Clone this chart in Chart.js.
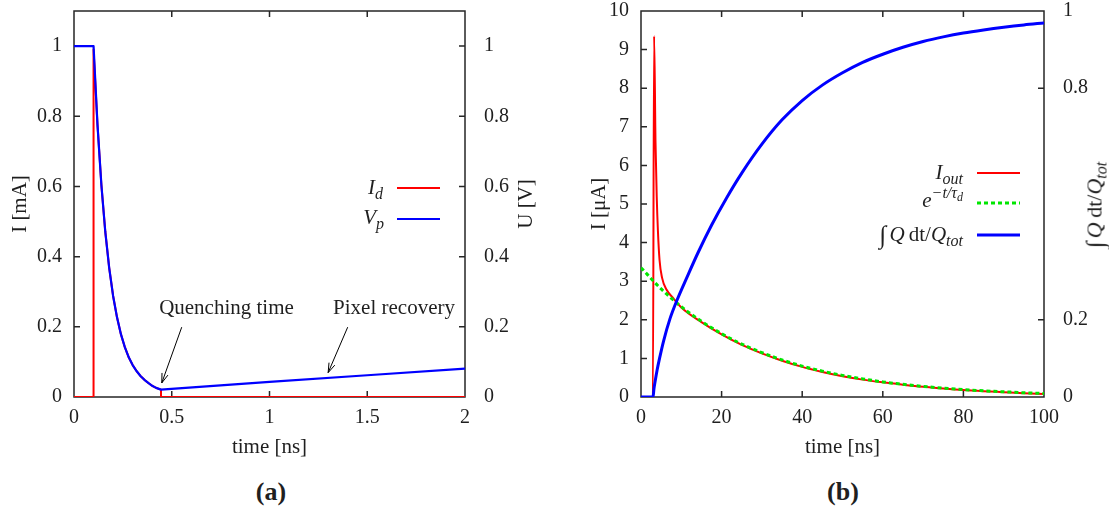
<!DOCTYPE html>
<html>
<head>
<meta charset="utf-8">
<script src="https://cdn.jsdelivr.net/npm/chart.js@4.4.1/dist/chart.umd.min.js"></script>
<style>
html,body{margin:0;padding:0;background:#fff;}
#wrap{position:relative;width:1109px;height:514px;overflow:hidden;font-family:'Liberation Serif','DejaVu Serif',serif;color:#1f1f1f;}
canvas{position:absolute;top:0;}
.t{position:absolute;font-size:21px;line-height:21px;height:21px;white-space:nowrap;}
.sb{font-size:16px;position:relative;top:5px;}
.sp{font-size:16px;position:relative;top:-9px;}
.sps{font-size:12px;position:relative;top:3px;}
.int{font-size:25px;position:relative;top:2px;margin-right:3px;}
.rot{transform:translate(-50%,-50%) rotate(-90deg);transform-origin:center center;}
.cap{position:absolute;font-size:26px;font-weight:bold;line-height:26px;transform:translate(-50%,-50%);}
</style>
</head>
<body>
<div id="wrap">
  <canvas id="ca" width="555" height="470" style="left:0px"></canvas>
  <canvas id="cb" width="554" height="470" style="left:555px"></canvas>

  <!-- legend (a) -->
  <div class="t" style="right:726px;top:177px"><i>I</i><span class="sb"><i>d</i></span></div>
  <div class="t" style="right:725px;top:207px"><i>V</i><span class="sb"><i>p</i></span></div>
  <!-- right axis title (a) -->
  <div class="t rot" style="left:525px;top:204px">U [V]</div>

  <!-- legend (b) -->
  <div class="t" style="right:146px;top:162px"><i>I</i><span class="sb"><i>out</i></span></div>
  <div class="t" style="right:146px;top:190px"><i>e</i><span class="sp"><i>−t/τ</i><span class="sps"><i>d</i></span></span></div>
  <div class="t" style="right:146px;top:222px"><span class="int">∫</span><i>Q</i>&#8201;dt/<i>Q</i><span class="sb"><i>tot</i></span></div>
  <!-- right axis title (b) -->
  <div class="t rot" style="left:1093px;top:205px;font-size:22px"><span class="int">∫</span><i>Q</i>&#8201;dt/<i>Q</i><span class="sb"><i>tot</i></span></div>

  <div class="cap" style="left:271px;top:492px">(a)</div>
  <div class="cap" style="left:843px;top:492px">(b)</div>
</div>
<script>
// ---------- Panel (a) data ----------
const aTime    = [0, 0.1, 0.12, 0.14, 0.16, 0.18, 0.20, 0.22, 0.24, 0.26, 0.28, 0.30, 0.32, 0.34, 0.36, 0.38, 0.40, 0.42, 0.445, 1.0, 1.5, 2.0];
const vpValues = [1, 1, 0.777, 0.605, 0.471, 0.368, 0.288, 0.227, 0.179, 0.142, 0.113, 0.091, 0.074, 0.060, 0.049, 0.040, 0.032, 0.026, 0.021, 0.043, 0.062, 0.081];
const idTime   = [0, 0.1, 0.1, 0.12, 0.14, 0.16, 0.18, 0.20, 0.22, 0.24, 0.26, 0.28, 0.30, 0.32, 0.34, 0.36, 0.38, 0.40, 0.42, 0.445, 0.445, 2.0];
const idValues = [0, 0, 0.99, 0.777, 0.605, 0.471, 0.368, 0.288, 0.227, 0.179, 0.142, 0.113, 0.091, 0.074, 0.060, 0.049, 0.040, 0.032, 0.026, 0.021, 0, 0];
const aXTicks  = [0, 0.5, 1, 1.5, 2];
const aYTicks  = [0, 0.2, 0.4, 0.6, 0.8, 1];
const aY2Ticks = [0, 0.2, 0.4, 0.6, 0.8, 1];
const aNotes = [
  {text: 'Quenching time', t: 0.78,  v: 0.253, fromT: 0.551, fromV: 0.199, toT: 0.449, toV: 0.040},
  {text: 'Pixel recovery', t: 1.637, v: 0.253, fromT: 1.40,  fromV: 0.199, toT: 1.30,  toV: 0.0695}
];

// ---------- Panel (b) data ----------
const outTime   = [0, 2.95, 3.25, 3.6, 3.9, 4.2, 4.6, 5.2, 6.4, 8, 10, 15, 20, 25, 30, 35, 40, 45, 50, 55, 60, 65, 70, 75, 80, 85, 90, 95, 100];
const outValues = [0, 0, 9.35, 6.6, 5.2, 4.3, 3.55, 3.1, 2.77, 2.56, 2.32, 1.94, 1.62, 1.35, 1.13, 0.94, 0.78, 0.65, 0.54, 0.45, 0.38, 0.32, 0.265, 0.22, 0.18, 0.15, 0.125, 0.10, 0.08];
const expTime   = [0, 5, 10, 15, 20, 25, 30, 35, 40, 45, 50, 55, 60, 65, 70, 75, 80, 85, 90, 95, 100];
const expValues = [3.35, 2.80, 2.34, 1.96, 1.64, 1.37, 1.15, 0.96, 0.80, 0.67, 0.56, 0.47, 0.39, 0.33, 0.275, 0.23, 0.19, 0.16, 0.135, 0.11, 0.09];
const intTime   = [0, 3.0, 3.2, 3.5, 4.0, 4.6, 5.6, 7.2, 8.9, 11.4, 14.2, 17.5, 21.2, 25, 30, 35, 40, 45, 50, 55, 60, 65, 70, 75, 80, 85, 90, 95, 100];
const intValues = [0, 0, 0.02, 0.04, 0.07, 0.10, 0.145, 0.203, 0.25, 0.31, 0.375, 0.445, 0.515, 0.58, 0.655, 0.718, 0.768, 0.808, 0.840, 0.867, 0.888, 0.906, 0.921, 0.933, 0.943, 0.951, 0.958, 0.964, 0.969];
const bXTicks  = [0, 20, 40, 60, 80, 100];
const bYTicks  = [0, 1, 2, 3, 4, 5, 6, 7, 8, 9, 10];
const bY2Ticks = [0, 0.2, 0.8, 1];

// ---------- helpers ----------
const FONT = "'Liberation Serif','DejaVu Serif',serif";
const INK = '#1f1f1f';
const pts = (xs, ys) => xs.map((x, i) => ({x: x, y: ys[i]}));
const setTicks = arr => s => { s.ticks = arr.map(v => ({value: v})); };
const fmt = v => String(+Number(v).toFixed(3));

const frameTicks = {
  id: 'frameTicks',
  beforeDatasetsDraw(chart) {
    const {ctx, chartArea: {left, right, top, bottom}, scales} = chart;
    const L = 6;
    ctx.save();
    ctx.strokeStyle = '#262626';
    ctx.lineWidth = 1.5;
    ctx.beginPath();
    scales.x.ticks.forEach(t => {
      const p = scales.x.getPixelForValue(t.value);
      if (p <= left + 1 || p >= right - 1) return;
      ctx.moveTo(p, bottom); ctx.lineTo(p, bottom - L);
      ctx.moveTo(p, top); ctx.lineTo(p, top + L);
    });
    scales.y.ticks.forEach(t => {
      const p = scales.y.getPixelForValue(t.value);
      if (p <= top + 1 || p >= bottom - 1) return;
      ctx.moveTo(left, p); ctx.lineTo(left + L, p);
    });
    if (scales.y2) scales.y2.ticks.forEach(t => {
      const p = scales.y2.getPixelForValue(t.value);
      if (p <= top + 1 || p >= bottom - 1) return;
      ctx.moveTo(right, p); ctx.lineTo(right - L, p);
    });
    ctx.stroke();
    ctx.strokeRect(left, top, right - left, bottom - top);
    ctx.restore();
  }
};

const legendLines = {
  id: 'legendLines',
  afterDatasetsDraw(chart, args, opts) {
    const ctx = chart.ctx;
    (opts.items || []).forEach(it => {
      const ds = chart.data.datasets[it.ds];
      ctx.save();
      ctx.strokeStyle = ds.borderColor;
      ctx.lineWidth = ds.borderWidth;
      ctx.setLineDash(ds.borderDash || []);
      ctx.beginPath();
      ctx.moveTo(it.x1, it.y); ctx.lineTo(it.x2, it.y);
      ctx.stroke();
      ctx.restore();
    });
  }
};

const notes = {
  id: 'notes',
  afterDatasetsDraw(chart, args, opts) {
    const {ctx, scales: {x, y}} = chart;
    (opts.items || []).forEach(n => {
      ctx.save();
      ctx.fillStyle = INK;
      ctx.font = "21px " + FONT;
      ctx.textAlign = 'center';
      ctx.textBaseline = 'middle';
      ctx.fillText(n.text, x.getPixelForValue(n.t), y.getPixelForValue(n.v));
      const x1 = x.getPixelForValue(n.fromT), y1 = y.getPixelForValue(n.fromV);
      const x2 = x.getPixelForValue(n.toT),   y2 = y.getPixelForValue(n.toV);
      ctx.strokeStyle = '#000';
      ctx.lineWidth = 1;
      ctx.beginPath();
      ctx.moveTo(x1, y1); ctx.lineTo(x2, y2);
      const ang = Math.atan2(y2 - y1, x2 - x1), hl = 10, ha = 0.32;
      ctx.moveTo(x2 - hl * Math.cos(ang - ha), y2 - hl * Math.sin(ang - ha));
      ctx.lineTo(x2, y2);
      ctx.lineTo(x2 - hl * Math.cos(ang + ha), y2 - hl * Math.sin(ang + ha));
      ctx.stroke();
      ctx.restore();
    });
  }
};

function xScale(ticks, min, max) {
  return {
    type: 'linear', position: 'bottom', min: min, max: max,
    afterBuildTicks: setTicks(ticks),
    afterFit: s => { s.height = 73; s.paddingLeft = 0; s.paddingRight = 0; },
    grid: {display: false, drawTicks: false}, border: {display: false},
    ticks: {padding: 9, autoSkip: false, maxRotation: 0, color: INK, font: {family: FONT, size: 20}, callback: v => fmt(v)},
    title: {display: true, text: 'time [ns]', color: INK, font: {family: FONT, size: 21}, padding: {top: 0, bottom: 10}}
  };
}
function yScale(ticks, min, max, width, titleText, titlePad) {
  return {
    type: 'linear', position: 'left', min: min, max: max,
    afterBuildTicks: setTicks(ticks),
    afterFit: s => { s.width = width; s.paddingTop = 0; s.paddingBottom = 0; },
    grid: {display: false, drawTicks: false}, border: {display: false},
    ticks: {padding: 12, autoSkip: false, color: INK, font: {family: FONT, size: 20}, callback: v => fmt(v)},
    title: {display: true, text: titleText, color: INK, font: {family: FONT, size: 21}, padding: {top: titlePad, bottom: 0}}
  };
}
function y2Scale(ticks, min, max, width) {
  return {
    type: 'linear', position: 'right', min: min, max: max,
    afterBuildTicks: setTicks(ticks),
    afterFit: s => { s.width = width; s.paddingTop = 0; s.paddingBottom = 0; },
    grid: {display: false, drawTicks: false}, border: {display: false},
    ticks: {padding: 19, autoSkip: false, color: INK, font: {family: FONT, size: 20}, callback: v => fmt(v)}
  };
}
const baseOpts = {
  responsive: false, animation: false, events: [],
  layout: {padding: {top: 11, left: 0, right: 0, bottom: 0}},
  elements: {point: {radius: 0}, line: {borderJoinStyle: 'round', borderCapStyle: 'butt'}}
};

// ---------- Chart (a) ----------
new Chart(document.getElementById('ca'), {
  type: 'line',
  data: {
    datasets: [
      {label: 'I_d', data: pts(idTime, idValues), borderColor: '#ff0000', borderWidth: 2, tension: 0, yAxisID: 'y', order: 2, fill: false},
      {label: 'V_p', data: pts(aTime, vpValues), borderColor: '#0000ff', borderWidth: 2.2, tension: 0, yAxisID: 'y2', order: 1, fill: false}
    ]
  },
  options: Object.assign({}, baseOpts, {
    plugins: {
      legend: {display: false}, tooltip: {enabled: false},
      legendLines: {items: [{ds: 0, x1: 397, x2: 440, y: 188}, {ds: 1, x1: 397, x2: 440, y: 219}]},
      notes: {items: aNotes}
    },
    scales: {
      x: xScale(aXTicks, 0, 2),
      y: yScale(aYTicks, 0, 1.1, 74, 'I [mA]', 8),
      y2: y2Scale(aY2Ticks, 0, 1.1, 90)
    }
  }),
  plugins: [frameTicks, legendLines, notes]
});

// ---------- Chart (b) ----------
new Chart(document.getElementById('cb'), {
  type: 'line',
  data: {
    datasets: [
      {label: 'I_out', data: pts(outTime, outValues), borderColor: '#ff0000', borderWidth: 2, cubicInterpolationMode: 'monotone', yAxisID: 'y', order: 3, fill: false},
      {label: 'exp', data: pts(expTime, expValues), borderColor: '#00e600', borderWidth: 3, borderDash: [4, 3], cubicInterpolationMode: 'monotone', yAxisID: 'y', order: 2, fill: false},
      {label: 'int', data: pts(intTime, intValues), borderColor: '#0000ff', borderWidth: 3, cubicInterpolationMode: 'monotone', yAxisID: 'y2', order: 1, fill: false}
    ]
  },
  options: Object.assign({}, baseOpts, {
    plugins: {
      legend: {display: false}, tooltip: {enabled: false},
      legendLines: {items: [{ds: 0, x1: 422, x2: 465, y: 173}, {ds: 1, x1: 422, x2: 465, y: 203}, {ds: 2, x1: 422, x2: 465, y: 235}]}
    },
    scales: {
      x: xScale(bXTicks, 0, 100),
      y: yScale(bYTicks, 0, 10, 86, 'I [μA]', 32),
      y2: y2Scale(bY2Ticks, 0, 1, 65)
    }
  }),
  plugins: [frameTicks, legendLines]
});
</script>
</body>
</html>
